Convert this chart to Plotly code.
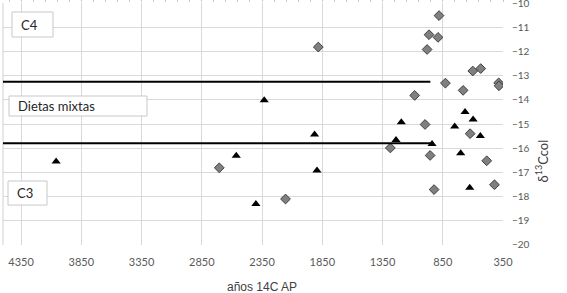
import plotly.graph_objects as go

# Data
tri_x = [4059, 2332, 1914, 1238, 1194, 2564, 2401, 1894, 939, 751, 665, 598, 538, 701, 626]
tri_y = [-16.55, -14.02, -15.43, -15.66, -14.93, -16.31, -18.31, -16.92, -15.83, -15.10, -14.50, -14.81, -15.50, -16.21, -17.63]

dia_x = [1883, 2705, 2155, 1285, 881, 964, 889, 980, 601, 535, 828, 386, 383, 681, 1083, 997, 623, 955, 485, 421, 922]
dia_y = [-11.82, -16.81, -18.10, -15.99, -10.52, -11.31, -11.42, -11.92, -12.81, -12.71, -13.31, -13.30, -13.42, -13.61, -13.82, -15.02, -15.40, -16.30, -16.52, -17.51, -17.71]

x_ticks = [4350, 3850, 3350, 2850, 2350, 1850, 1350, 850, 350]
x_grid = [4350, 3850, 3350, 2850, 2350, 1850, 1350, 850]
y_ticks = [-10, -11, -12, -13, -14, -15, -16, -17, -18, -19, -20]

lines = [(-13.25, 953), (-15.8, 928)]
labels = [("C4", 0.032, 0.911, 0.018, 0.100, 0.8595, 0.9628),
          ("Dietas mixtas", 0.026, 0.574, 0.012, 0.288, 0.533, 0.6157),
          ("C3", 0.024, 0.2136, 0.010, 0.088, 0.165, 0.2645)]

FONT = "Lato"
fig = go.Figure()

fig.add_trace(go.Scatter(x=dia_x, y=dia_y, mode="markers",
                         marker=dict(symbol="diamond", size=7.5, color="#808080",
                                     line=dict(color="#3f3f3f", width=1)),
                         showlegend=False))
fig.add_trace(go.Scatter(x=tri_x, y=tri_y, mode="markers",
                         marker=dict(symbol="triangle-up", size=8, color="#000000"),
                         showlegend=False))
# invisible trace on xaxis2 so the gridline axis is active
fig.add_trace(go.Scatter(x=[None], y=[None], xaxis="x2", showlegend=False, hoverinfo="skip"))

shapes = []
for yv, xend in lines:
    shapes.append(dict(type="line", xref="x", yref="y", x0=4525, x1=xend, y0=yv, y1=yv,
                       line=dict(color="#000000", width=2), layer="above"))
for _, tx, ty, x0, x1, y0, y1 in labels:
    shapes.append(dict(type="rect", xref="paper", yref="paper", x0=x0, x1=x1, y0=y0, y1=y1,
                       line=dict(color="#c8c8c8", width=1), fillcolor="white", layer="above"))
# left axis line
shapes.append(dict(type="line", xref="paper", yref="paper", x0=0, x1=0, y0=0, y1=1,
                   line=dict(color="#d0d0d0", width=1), layer="below"))

annotations = []
for txt, tx, ty, *_ in labels:
    annotations.append(dict(text=txt, xref="paper", yref="paper", x=tx, y=ty,
                            xanchor="left", yanchor="middle", showarrow=False,
                            font=dict(family=FONT, size=13, color="#262626")))
annotations.append(dict(text="años 14C AP", xref="paper", yref="paper", x=0.518, y=-0.1736,
                        xanchor="center", yanchor="middle", showarrow=False,
                        font=dict(family="Liberation Sans", size=12, color="#404040")))
annotations.append(dict(text="δ<sup>13</sup>Ccol", xref="paper", yref="paper", x=1.078, y=0.345,
                        xanchor="center", yanchor="middle", showarrow=False, textangle=-90,
                        font=dict(family=FONT, size=13, color="#404040")))

fig.update_layout(
    width=567, height=293,
    margin=dict(l=3, r=64, t=3, b=48, autoexpand=False),
    paper_bgcolor="white", plot_bgcolor="white",
    xaxis=dict(range=[4500, 350], tickvals=x_ticks, ticktext=[str(v) for v in x_ticks],
               showgrid=False, zeroline=False, showline=False, ticks="", automargin=False,
               ticklabelstandoff=9, ticklabeloverflow="allow",
               tickfont=dict(family=FONT, size=11, color="#595959")),
    xaxis2=dict(range=[4500, 350], overlaying="x", side="top", tickvals=x_grid,
                showticklabels=False, showgrid=True, gridcolor="#d9d9d9", gridwidth=1,
                zeroline=False, ticks="outside", ticklen=3, tickcolor="#c8c8c8",
                minor=dict(ticks="outside", ticklen=3, tickcolor="#c8c8c8",
                           tick0=350, dtick=100, showgrid=False),
                automargin=False),
    yaxis=dict(range=[-20.001, -9.999], tickvals=y_ticks, side="right", showgrid=True,
               gridcolor="#d9d9d9", gridwidth=1, zeroline=False, showline=False, ticks="",
               ticklabelstandoff=8, automargin=False, ticklabeloverflow="allow",
               tickfont=dict(family=FONT, size=10, color="#595959")),
    shapes=shapes,
    annotations=annotations,
)

fig.write_html("out.html", config={"displayModeBar": False},
               post_script="document.body.style.margin='0';document.body.style.padding='0';")
